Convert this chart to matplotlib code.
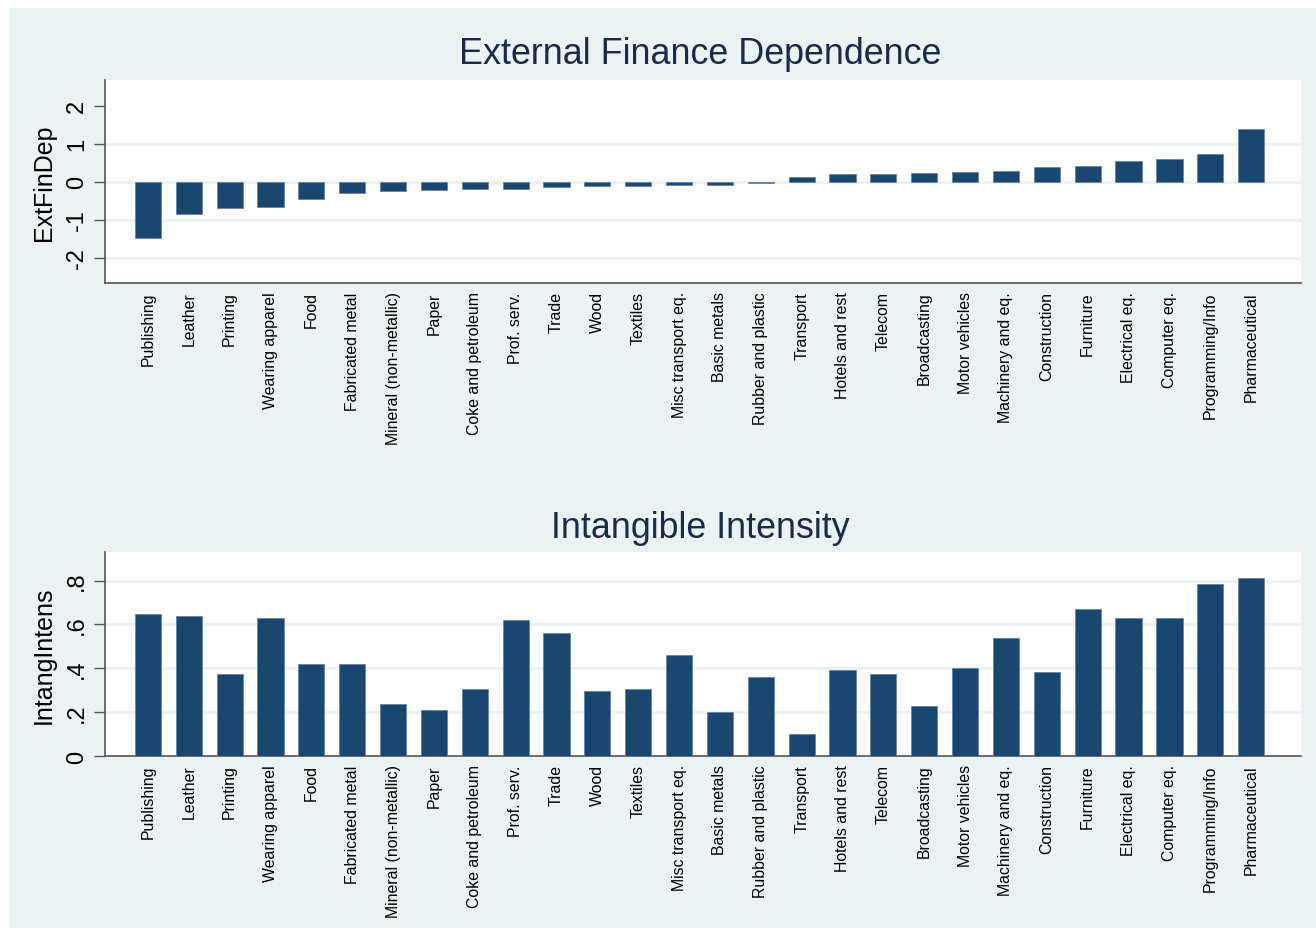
import matplotlib
matplotlib.use("Agg")
import numpy as np
from matplotlib import pyplot as plt
from matplotlib.patches import Rectangle

plt.rcParams['font.family'] = ['Liberation Sans', 'DejaVu Sans']

# industrias (mesma ordem nos dois paineis)
industries = ["Publishing", "Leather", "Printing", "Wearing apparel", "Food",
              "Fabricated metal", "Mineral (non-metallic)", "Paper",
              "Coke and petroleum", "Prof. serv.", "Trade", "Wood", "Textiles",
              "Misc transport eq.", "Basic metals", "Rubber and plastic",
              "Transport", "Hotels and rest", "Telecom", "Broadcasting",
              "Motor vehicles", "Machinery and eq.", "Construction", "Furniture",
              "Electrical eq.", "Computer eq.", "Programming/Info", "Pharmaceutical"]

ext_fin_dep = [-1.47, -0.85, -0.675, -0.65, -0.45, -0.28, -0.25, -0.22, -0.18,
               -0.18, -0.13, -0.105, -0.105, -0.09, -0.09, -0.035, 0.14, 0.20,
               0.20, 0.23, 0.25, 0.29, 0.39, 0.43, 0.54, 0.60, 0.74, 1.39]
intang_intens = [0.648, 0.639, 0.373, 0.63, 0.421, 0.421, 0.239, 0.21, 0.307,
                 0.62, 0.56, 0.298, 0.307, 0.46, 0.199, 0.362, 0.10, 0.392,
                 0.373, 0.23, 0.40, 0.54, 0.382, 0.669, 0.63, 0.63, 0.783, 0.812]

top_ticks = [2, 1, 0, -1, -2]
top_ticklabels = ["2", "1", "0", "-1", "-2"]
bot_ticks = [0, 0.2, 0.4, 0.6, 0.8]
bot_ticklabels = ["0", ".2", ".4", ".6", ".8"]

bar_color = "#1a476f"
panel_color = "#eaf2f3"
title_color = "#1c2a4a"

W, H = 1316, 929
fig = plt.figure(figsize=(W / 100, H / 100), dpi=100)
fig.patch.set_facecolor("white")
fig.patches.append(Rectangle((9 / W, 0), 1, 1 - 9 / H, transform=fig.transFigure,
                             facecolor=panel_color, edgecolor="none", zorder=-10))


def painel(rect, valores, ticks, ticklabels, ylim, grid_ticks, ylabel, label_x, titulo, titulo_y):
    ax = fig.add_axes(rect)
    n = len(valores)
    x = np.arange(n)
    ax.bar(x, valores, width=0.64, color=bar_color, edgecolor="#5f7e9c",
           linewidth=0.5, zorder=3)
    ax.set_xlim(-1.05, n - 1 + 1.22)
    ax.set_ylim(*ylim)
    ax.set_facecolor("white")
    for g in grid_ticks:
        ax.axhline(g, color=panel_color, linewidth=2.2, zorder=1)
    ax.set_yticks(ticks)
    ax.set_yticklabels(ticklabels, rotation=90, va="center", fontsize=17)
    ax.tick_params(axis="y", length=8, width=1, color="#555555", pad=4)
    ax.set_xticks(x)
    ax.set_xticklabels(industries, rotation=90, va="top", ha="center",
                       fontsize=11.4)
    ax.tick_params(axis="x", length=0, pad=6)
    for s in ["top", "right"]:
        ax.spines[s].set_visible(False)
    ax.spines["left"].set_color("#555555")
    ax.spines["bottom"].set_color("#555555")
    ax.spines["left"].set_linewidth(1.2)
    ax.spines["bottom"].set_linewidth(1.2)
    ax.set_ylabel(ylabel, fontsize=18)
    ax.yaxis.set_label_coords(label_x, 0.5)
    fig.text(0.532, titulo_y, titulo, ha="center", va="center", fontsize=25.8,
             color=title_color)
    return ax


painel([105 / W, 1 - 284 / H, 1196 / W, 203 / H], ext_fin_dep, top_ticks,
       top_ticklabels, (-2.66, 2.68), [1, 0, -1, -2], "ExtFinDep", -0.041,
       "External Finance Dependence", 1 - 54 / H)
painel([105 / W, 1 - 757 / H, 1196 / W, 204 / H], intang_intens, bot_ticks,
       bot_ticklabels, (0, 0.93), [0.2, 0.4, 0.6, 0.8], "IntangIntens", -0.041,
       "Intangible Intensity", 1 - 529 / H)

fig.savefig("out.png", dpi=100)
